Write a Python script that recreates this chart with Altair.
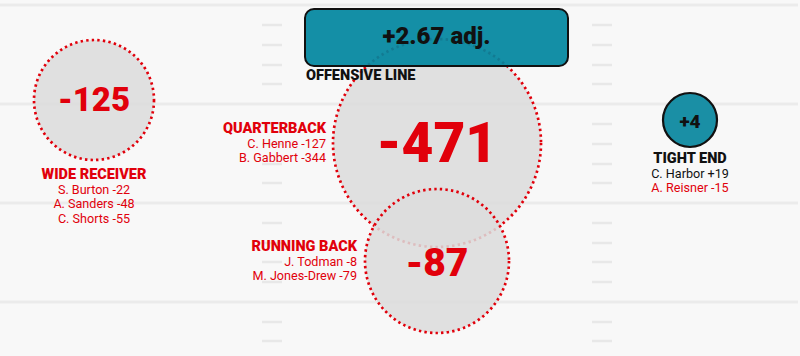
import altair as alt
import pandas as pd

# ---------------- data ----------------
pos_labels = ["WIDE RECEIVER", "QUARTERBACK", "RUNNING BACK", "TIGHT END"]
pos_totals = [-125, -471, -87, 4]
players = [
    ["S. Burton", "A. Sanders", "C. Shorts"],
    ["C. Henne", "B. Gabbert"],
    ["J. Todman", "M. Jones-Drew"],
    ["C. Harbor", "A. Reisner"],
]
player_values = [[-22, -48, -55], [-127, -344], [-8, -79], [19, -15]]
oline_label = "OFFENSIVE LINE"
oline_value = 2.67

# ---------------- layout (pixels) ----------------
W, H = 800, 356
circle_cx = [94, 437, 437, 690]
circle_cy = [100, 143, 261, 120]
circle_r = [60, 104, 72, 27]
value_fs = [33, 55, 39, 19]
value_base = [111, 162, 276, 128]
label_anchor_x = [94, 326, 357, 690]
label_align = ["center", "right", "right", "center"]
label_title_y = [179, 133, 251, 163]
label_step = 14.7
box = dict(x=305, x2=568, y=9, y2=66)
yard_y = [5, 104, 203, 302]
hash_y = [25, 45, 65, 84, 124, 144, 164, 183, 223, 243, 262, 282, 322, 341]
hash_x = [(262, 282), (592, 612)]

RED = "#e1000b"
TEAL_BOX = "#00869e"
TEAL = "#1a8fa5"
BLACK = "#111111"
FONT = "Roboto"

XS = alt.Scale(domain=[0, W], nice=False, zero=False)
YS = alt.Scale(domain=[0, H], nice=False, zero=False, reverse=True)


def enc_xy(**extra):
    return dict(
        x=alt.X("x:Q", scale=XS, axis=None),
        y=alt.Y("y:Q", scale=YS, axis=None),
        **extra,
    )


# field lines
yard_df = pd.DataFrame({"y": yard_y, "x": [0] * len(yard_y), "x2": [798] * len(yard_y)})
yard = alt.Chart(yard_df).mark_rule(color="#ebebeb", strokeWidth=3).encode(
    **enc_xy(x2="x2:Q")
)
hash_rows = [{"x": a, "x2": b, "y": y} for (a, b) in hash_x for y in hash_y]
hashes = alt.Chart(pd.DataFrame(hash_rows)).mark_rule(color="#e8e8e8", strokeWidth=2.5).encode(
    **enc_xy(x2="x2:Q")
)

# circles (Vega circle symbol: size = diameter^2)
circ_rows = []
for i, v in enumerate(pos_totals):
    circ_rows.append(
        {"x": circle_cx[i], "y": circle_cy[i], "area": (2 * circle_r[i]) ** 2,
         "neg": v < 0, "order": i}
    )
circ_df = pd.DataFrame(circ_rows)
neg_circles = alt.Chart(circ_df[circ_df.neg]).mark_circle(
    fill="#dcdcdc", fillOpacity=0.86, opacity=1, stroke=RED, strokeWidth=2.7,
    strokeDash=[2.4, 3.2],
).encode(**enc_xy(size=alt.Size("area:Q", scale=None, legend=None),
                  order=alt.Order("order:Q")))
pos_circles = alt.Chart(circ_df[~circ_df.neg]).mark_circle(
    fill=TEAL, opacity=1, stroke=BLACK, strokeWidth=2.2,
).encode(**enc_xy(size=alt.Size("area:Q", scale=None, legend=None)))

# offensive line box
box_df = pd.DataFrame([{"x": box["x"], "x2": box["x2"], "y": box["y"], "y2": box["y2"]}])
box_mark = alt.Chart(box_df).mark_rect(
    fill=TEAL_BOX, fillOpacity=0.92, stroke=BLACK, strokeWidth=2, cornerRadius=9
).encode(**enc_xy(x2="x2:Q", y2="y2:Q"))

# texts
texts = []


def add(text, x, y, fs, col, weight, align):
    texts.append(dict(text=text, x=x, y=y, fs=fs, col=col, weight=weight, align=align))


def fmt(v):
    return f"+{v}" if v > 0 else f"{v}"


for i, v in enumerate(pos_totals):
    col = RED if v < 0 else BLACK
    add(fmt(v), circle_cx[i], value_base[i], value_fs[i], col, 900, "center")
    add(pos_labels[i], label_anchor_x[i], label_title_y[i], 14.5, col, 900, label_align[i])
    for j, (p, pv) in enumerate(zip(players[i], player_values[i])):
        add(f"{p} {fmt(pv)}", label_anchor_x[i], label_title_y[i] + label_step * (j + 1),
            12.6, RED if pv < 0 else BLACK, 400, label_align[i])

add(f"+{oline_value:.2f} adj.", (box["x"] + box["x2"]) / 2, 44, 24, BLACK, 900, "center")
add(oline_label, 306, 80, 14.5, BLACK, 900, "left")

tdf = pd.DataFrame(texts)
text_layers = []
for (w, a), g in tdf.groupby(["weight", "align"]):
    text_layers.append(
        alt.Chart(g).mark_text(font=FONT, fontWeight=int(w), align=a, baseline="alphabetic").encode(
            **enc_xy(text="text:N",
                     size=alt.Size("fs:Q", scale=None, legend=None),
                     color=alt.Color("col:N", scale=None, legend=None))
        )
    )

chart = alt.layer(yard, hashes, neg_circles, box_mark, pos_circles, *text_layers).properties(
    width=W, height=H, padding=0, autosize=alt.AutoSizeParams(type="none"),
    background="#f8f8f8",
).configure_view(stroke=None)

chart.save("out.html", embed_options={"renderer": "svg", "actions": False})
